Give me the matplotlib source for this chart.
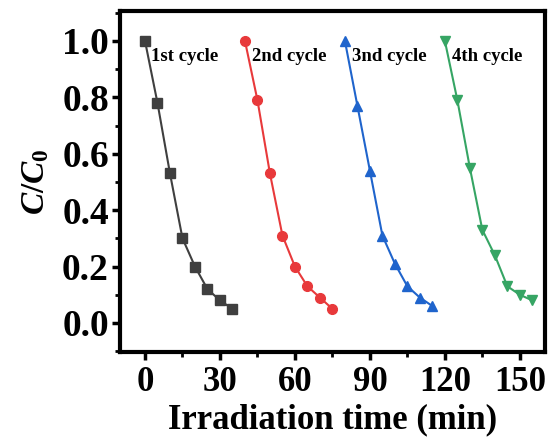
import matplotlib
matplotlib.use("Agg")
import matplotlib.pyplot as plt
from matplotlib.ticker import MultipleLocator

plt.rcParams['font.family'] = ['Liberation Serif', 'DejaVu Serif']
plt.rcParams['mathtext.fontset'] = 'custom'
plt.rcParams['mathtext.rm'] = 'Liberation Serif:bold'
plt.rcParams['mathtext.it'] = 'Liberation Serif:bold:italic'
plt.rcParams['mathtext.bf'] = 'Liberation Serif:bold'

t1 = [0, 5, 10, 15, 20, 25, 30, 35]
c1 = [1.0, 0.78, 0.53, 0.30, 0.20, 0.12, 0.08, 0.05]
t2 = [40, 45, 50, 55, 60, 65, 70, 75]
c2 = [1.0, 0.79, 0.53, 0.31, 0.20, 0.13, 0.09, 0.05]
t3 = [80, 85, 90, 95, 100, 105, 110, 115]
c3 = [1.0, 0.77, 0.54, 0.31, 0.21, 0.13, 0.09, 0.06]
t4 = [120, 125, 130, 135, 140, 145, 150, 155]
c4 = [1.0, 0.79, 0.55, 0.33, 0.24, 0.13, 0.10, 0.08]
labels = ["1st cycle", "2nd cycle", "3nd cycle", "4th cycle"]
xticks = [0, 30, 60, 90, 120, 150]
yticks = [0.0, 0.2, 0.4, 0.6, 0.8, 1.0]

fig = plt.figure(figsize=(5.52, 4.38), dpi=100)
ax = fig.add_axes([0.2174, 0.1963, 0.7696, 0.7786])

series = [(t1, c1, '#3f3f3f', 's', 6.5), (t2, c2, '#e8393b', 'o', 7),
          (t3, c3, '#1f64cc', '^', 7.5), (t4, c4, '#36a564', 'v', 7.5)]
for t, c, col, m, ms in series:
    ax.plot(t, c, color=col, marker=m, markersize=ms, linewidth=1.5)

text_x = [2.4, 43, 82.8, 123]
for lx, lab in zip(text_x, labels):
    ax.text(lx, 0.945, lab, fontsize=13.5, fontweight='bold', ha='left', va='center')

ax.set_xlim(-10, 160)
ax.set_ylim(-0.103, 1.106)
ax.set_xticks(xticks)
ax.set_yticks(yticks)
ax.set_yticklabels([f"{v:.1f}" for v in yticks])
ax.xaxis.set_minor_locator(MultipleLocator(15))
ax.yaxis.set_minor_locator(MultipleLocator(0.1))
ax.tick_params(which='major', direction='out', length=6, width=2.5)
ax.tick_params(which='minor', direction='out', length=3.5, width=2)
ax.tick_params(axis='y', labelsize=27, pad=2)
ax.tick_params(axis='x', labelsize=25, pad=4)
for lab in ax.get_xticklabels() + ax.get_yticklabels():
    lab.set_fontweight('bold')
for s in ax.spines.values():
    s.set_linewidth(3)

ax.set_xlabel("Irradiation time (min)", fontsize=25, fontweight='bold', labelpad=3)
ax.set_ylabel(r"$C/C_0$", fontsize=24, labelpad=8)

fig.savefig("out.png", dpi=100)
